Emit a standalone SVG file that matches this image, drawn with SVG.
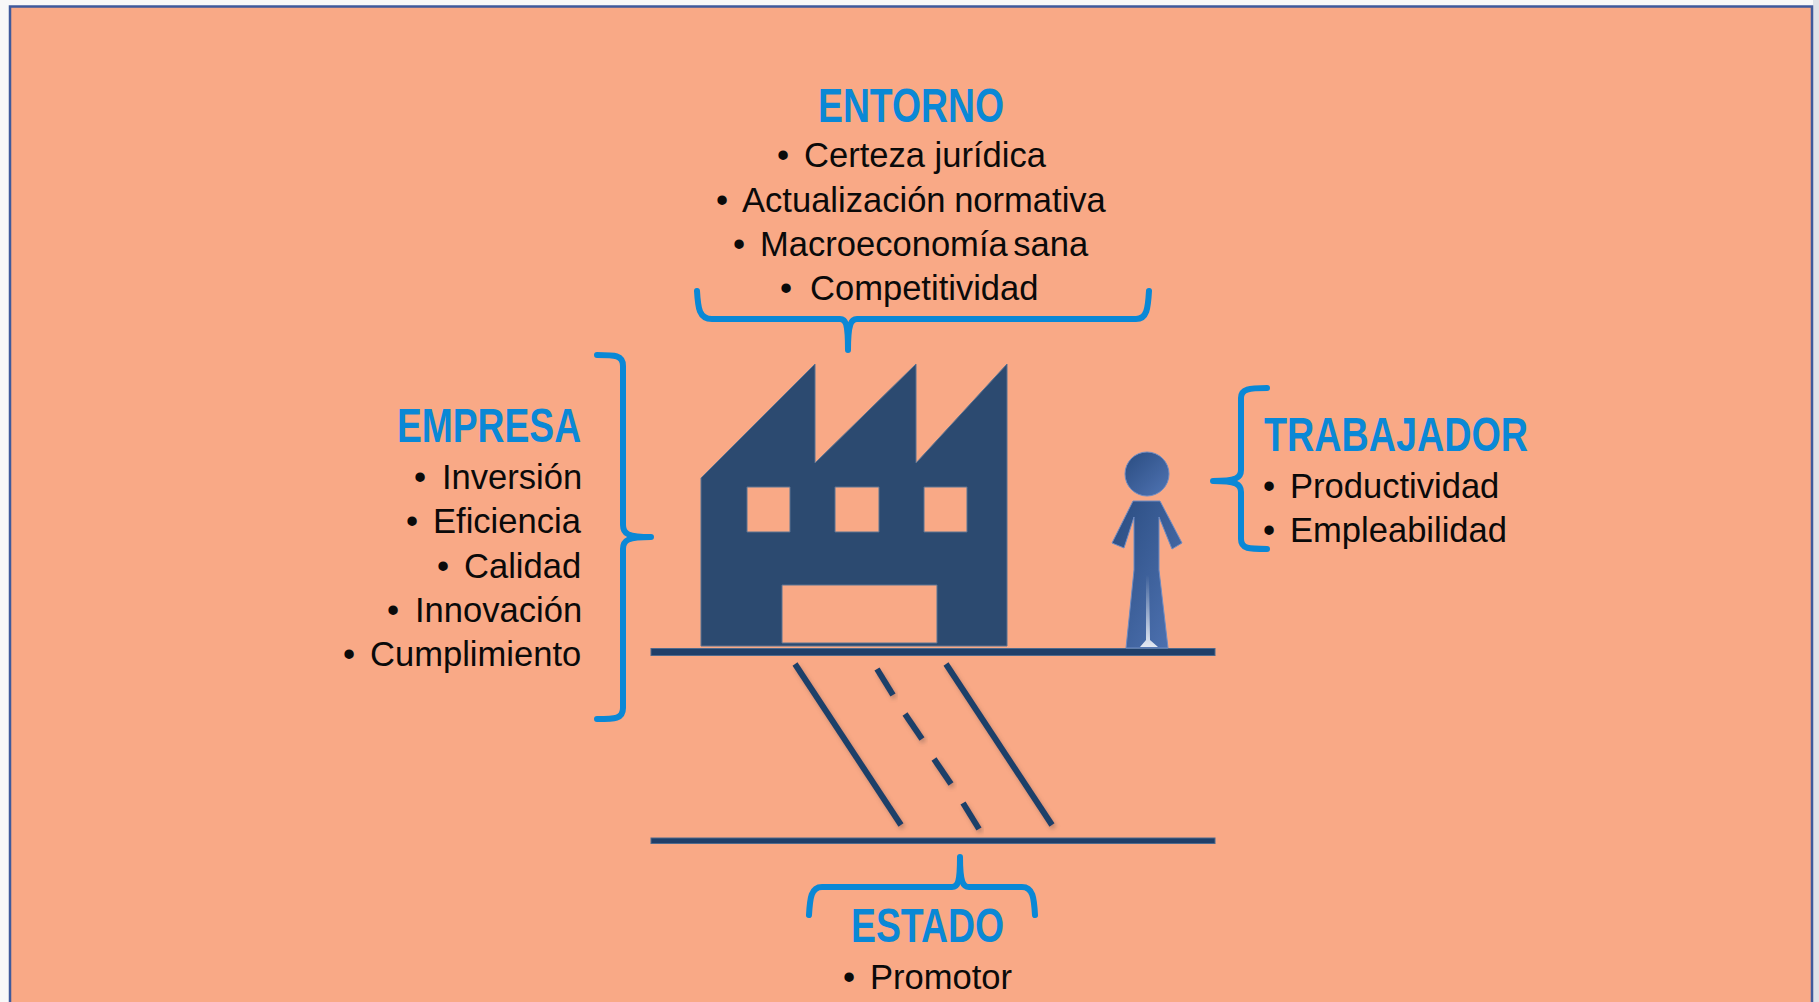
<svg xmlns="http://www.w3.org/2000/svg" width="1819" height="1002" viewBox="0 0 1819 1002">
<style>
.h{font-family:"Liberation Sans",Arial,sans-serif;font-weight:700;font-size:49px;fill:#0a88d6}
.b{font-family:"Liberation Sans",Arial,sans-serif;font-size:34.55px;fill:#0a0a0a}
.brace{fill:none;stroke:#0a88d6;stroke-width:6;stroke-linecap:round;stroke-linejoin:round}
.ground{fill:#1f3f69;stroke:#4f6a8c;stroke-width:1}
.road{stroke:#1f3f69;stroke-width:6;fill:none;filter:url(#sh)}
</style>
<defs>
<filter id="sh" x="-30%" y="-30%" width="160%" height="160%"><feDropShadow dx="2" dy="3" stdDeviation="2" flood-color="#7a5a50" flood-opacity=".45"/></filter>
<linearGradient id="pg" x1="0" y1="0" x2="1" y2="1"><stop offset="0" stop-color="#2a4c80"/><stop offset="1" stop-color="#5074b4"/></linearGradient>
<linearGradient id="hl" x1="0" y1="0" x2="0" y2="1"><stop offset="0" stop-color="#fff" stop-opacity="0"/><stop offset="1" stop-color="#fff" stop-opacity=".85"/></linearGradient>
</defs>
<rect width="1819" height="1002" fill="#f8f8f8"/>
<rect x="1813" width="6" height="1002" fill="#dfe2e7"/>
<g id="frame"><rect x="10" y="6.5" width="1802" height="1000" fill="#f9a986" stroke="#3f5a9c" stroke-width="2.5"/></g>
<g id="road">
<rect class="ground" x="651" y="648.5" width="564" height="7"/>
<rect class="ground" x="651" y="838" width="564" height="5.5"/>
<path class="road" d="M795 664L901 825"/>
<path class="road" d="M946 664L1052 825"/>
<path class="road" d="M877 669L893 695"/>
<path class="road" d="M905 714L922 739"/>
<path class="road" d="M934 759L951 784"/>
<path class="road" d="M963 803L979 829"/>
</g>
<g id="factory">
<path fill="#2c4a70" stroke="#5b7391" stroke-width="1" fill-rule="evenodd" d="M701 478L815 364V463L916 364V463L1007 364V646H701ZM747 487V532H790V487ZM835 487V532H879V487ZM924 487V532H967V487ZM782 585V643H937V585Z"/>
</g>
<g id="person">
<circle cx="1147" cy="474" r="22" fill="url(#pg)" stroke="#6d8cc4" stroke-width="1"/>
<path fill="url(#pg)" stroke="#6d8cc4" stroke-width="1" d="M1133 501H1160L1182 543L1172 549L1159 517V570L1168 648H1126L1134 570V517L1124 548L1112 543Z"/>
<path fill="url(#hl)" d="M1146 575L1149 575L1150 640L1158 647H1140L1146 640Z"/>
</g>
<g id="connectors">
<path class="brace" d="M697 291C698 308 699 319 712 319H840C846 319 848 324 848 350C848 324 851 319 857 319H1136C1147 319 1148 308 1149 291"/>
<path class="brace" d="M597 355C615 355 623 355 623 366V525C623 534 628 537 651 537C628 537 623 540 623 549V708C623 719 615 719 597 719"/>
<path class="brace" d="M1267 388C1249 388 1241 389 1241 398V470C1241 478 1236 481 1213 481C1236 481 1241 484 1241 492V539C1241 549 1249 549 1267 549"/>
<path class="brace" d="M809 915C810 898 811 887 822 887H952C958 887 960 882 960 857C960 882 963 887 969 887H1022C1033 887 1034 898 1035 915"/>
</g>
<g id="entorno">
<text class="h" x="818" y="122" textLength="186" lengthAdjust="spacingAndGlyphs">ENTORNO</text>
<text class="b" y="167"><tspan x="777">•</tspan><tspan x="804">Certeza jurídica</tspan></text>
<text class="b" y="212" word-spacing="-1"><tspan x="716">•</tspan><tspan x="742">Actualización normativa</tspan></text>
<text class="b" y="256" word-spacing="-4"><tspan x="733">•</tspan><tspan x="760">Macroeconomía sana</tspan></text>
<text class="b" y="300"><tspan x="780">•</tspan><tspan x="810">Competitividad</tspan></text>
</g>
<g id="empresa">
<text class="h" x="397" y="442" textLength="184" lengthAdjust="spacingAndGlyphs">EMPRESA</text>
<text class="b" y="489"><tspan x="414">•</tspan><tspan x="442">Inversión</tspan></text>
<text class="b" y="533"><tspan x="406">•</tspan><tspan x="433">Eficiencia</tspan></text>
<text class="b" y="578"><tspan x="437">•</tspan><tspan x="464">Calidad</tspan></text>
<text class="b" y="622"><tspan x="387">•</tspan><tspan x="415">Innovación</tspan></text>
<text class="b" y="666"><tspan x="343">•</tspan><tspan x="370">Cumplimiento</tspan></text>
</g>
<g id="trabajador">
<text class="h" x="1264" y="451" textLength="264" lengthAdjust="spacingAndGlyphs">TRABAJADOR</text>
<text class="b" y="498"><tspan x="1263">•</tspan><tspan x="1290">Productividad</tspan></text>
<text class="b" y="542"><tspan x="1263">•</tspan><tspan x="1290">Empleabilidad</tspan></text>
</g>
<g id="estado">
<text class="h" x="851" y="942" textLength="153" lengthAdjust="spacingAndGlyphs">ESTADO</text>
<text class="b" y="989"><tspan x="843">•</tspan><tspan x="870">Promotor</tspan></text>
</g>
</svg>
